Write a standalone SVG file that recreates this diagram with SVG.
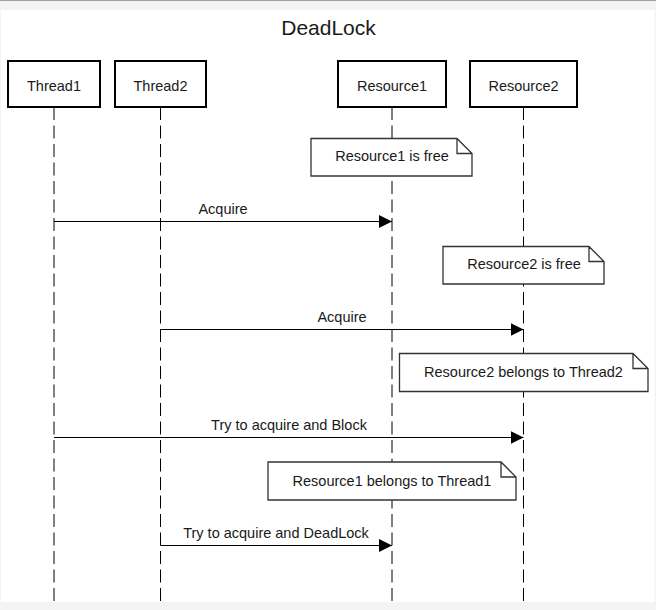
<svg xmlns="http://www.w3.org/2000/svg" width="656" height="610" viewBox="0 0 656 610">
<style>
text{font-family:"Liberation Sans",Arial,sans-serif;fill:#1a1a1a}
.lbl{font-size:14.5px;text-anchor:middle}
.title{font-size:21px;text-anchor:middle}
.box{fill:#fff;stroke:#000;stroke-width:2}
.life{stroke:#000;stroke-width:1;stroke-dasharray:13 5.5;fill:none}
.note{fill:#fff;stroke:#333;stroke-width:1.3;stroke-linejoin:miter}
.msg{stroke:#000;stroke-width:1;fill:none}
</style>
<defs>
<marker id="arr" markerWidth="14" markerHeight="14" refX="13" refY="6.5" orient="auto" markerUnits="userSpaceOnUse">
<path d="M0,0 L13,6.5 L0,13 Z" fill="#000"/>
</marker>
</defs>
<rect x="0" y="0" width="656" height="610" fill="#f4f4f4"/>
<line x1="0" y1="0.5" x2="656" y2="0.5" stroke="#a0a0a0"/>
<rect x="1" y="10" width="653.5" height="592" fill="#fff"/>
<text class="title" x="328.5" y="35">DeadLock</text>

<g id="lifelines">
<line class="life" x1="54" y1="107" x2="54" y2="602"/>
<line class="life" x1="160.5" y1="107" x2="160.5" y2="602"/>
<line class="life" x1="392" y1="107" x2="392" y2="602"/>
<line class="life" x1="523.5" y1="107" x2="523.5" y2="602"/>
</g>

<g id="Thread1"><rect class="box" x="8" y="61" width="92" height="46"/><text class="lbl" x="54" y="91">Thread1</text></g>
<g id="Thread2"><rect class="box" x="115" y="61" width="91" height="46"/><text class="lbl" x="160.5" y="91">Thread2</text></g>
<g id="Resource1"><rect class="box" x="338" y="61" width="108" height="46"/><text class="lbl" x="392" y="91">Resource1</text></g>
<g id="Resource2"><rect class="box" x="470" y="61" width="107" height="46"/><text class="lbl" x="523.5" y="91">Resource2</text></g>

<g id="note1">
<path class="note" d="M311,138.5 H457 L472,153.5 V176 H311 Z M457,138.5 V153.5 H472"/>
<text class="lbl" x="392" y="161">Resource1 is free</text>
</g>
<g id="note2">
<path class="note" d="M443,246.5 H589 L604,261.5 V284 H443 Z M589,246.5 V261.5 H604"/>
<text class="lbl" x="524" y="269">Resource2 is free</text>
</g>
<g id="note3">
<path class="note" d="M399.5,353.5 H633 L648,368.5 V391.5 H399.5 Z M633,353.5 V368.5 H648"/>
<text class="lbl" x="523.5" y="377">Resource2 belongs to Thread2</text>
</g>
<g id="note4">
<path class="note" d="M268,462 H501 L516,477 V500 H268 Z M501,462 V477 H516"/>
<text class="lbl" x="392" y="486">Resource1 belongs to Thread1</text>
</g>

<g id="connectors">
<line class="msg" x1="54" y1="221.5" x2="392" y2="221.5" marker-end="url(#arr)"/>
<text class="lbl" x="223" y="214">Acquire</text>
<line class="msg" x1="160.5" y1="329.5" x2="523.5" y2="329.5" marker-end="url(#arr)"/>
<text class="lbl" x="342" y="322">Acquire</text>
<line class="msg" x1="54" y1="437.5" x2="523.5" y2="437.5" marker-end="url(#arr)"/>
<text class="lbl" x="289" y="430">Try to acquire and Block</text>
<line class="msg" x1="160.5" y1="545.5" x2="392" y2="545.5" marker-end="url(#arr)"/>
<text class="lbl" x="276" y="538">Try to acquire and DeadLock</text>
</g>
</svg>
